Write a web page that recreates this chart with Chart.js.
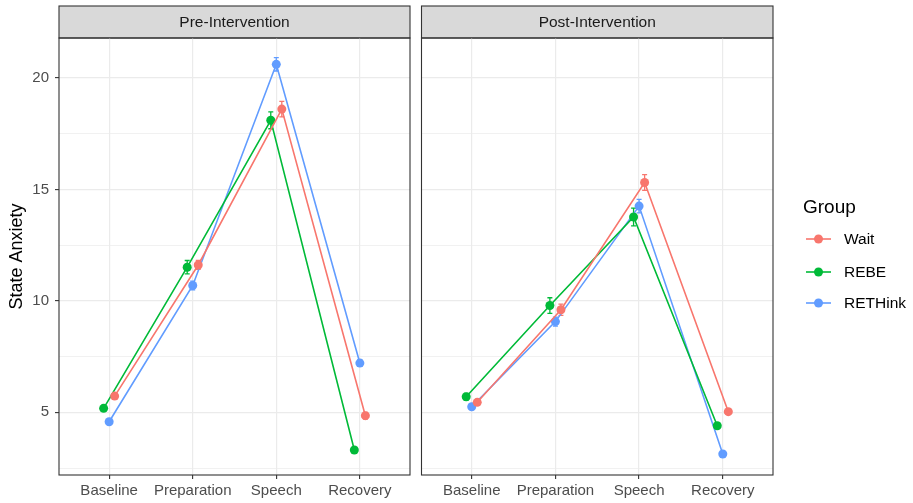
<!DOCTYPE html>
<html>
<head>
<meta charset="utf-8">
<script src="https://cdn.jsdelivr.net/npm/chart.js@4"></script>
<style>
  body { margin: 0; background: #fff; }
  #wrap { position: relative; width: 913px; height: 503px; }
  canvas { position: absolute; top: 0; }
</style>
</head>
<body>
<div id="wrap">
  <canvas id="pre" width="411" height="503" style="left:0"></canvas>
  <canvas id="post" width="502" height="503" style="left:411px"></canvas>
</div>
<script>
// phases on the x axis, one panel per period
const phases = ['Baseline', 'Preparation', 'Speech', 'Recovery'];
const groups = ['Wait', 'REBE', 'RETHink'];
const groupColors = ['#F8766D', '#00BA38', '#619CFF'];
const dodge = [0.066, -0.066, 0];
const yTicks = [2.5, 5, 7.5, 10, 12.5, 15, 17.5, 20];

// means
const preWait     = [5.73, 11.61, 18.60, 4.85];
const preREBE     = [5.18, 11.51, 18.10, 3.31];
const preRETHink  = [4.58, 10.69, 20.61, 7.21];
const postWait    = [5.45, 9.60, 15.31, 5.03];
const postREBE    = [5.70, 9.79, 13.76, 4.40];
const postRETHink = [5.25, 9.07, 14.25, 3.13];

// error bar half-lengths
const preWaitSE     = [0.12, 0.20, 0.35, 0.15];
const preREBESE     = [0.12, 0.30, 0.38, 0.10];
const preRETHinkSE  = [0.10, 0.20, 0.30, 0.15];
const postWaitSE    = [0.12, 0.25, 0.35, 0.12];
const postREBESE    = [0.15, 0.35, 0.40, 0.12];
const postRETHinkSE = [0.10, 0.20, 0.30, 0.10];

const FONT = '"Liberation Sans", Arial, sans-serif';
Chart.defaults.font.family = FONT;
Chart.defaults.color = '#4D4D4D';

function makeDatasets(series, errors) {
  return series.map((vals, g) => ({
    label: groups[g],
    data: vals.map((v, i) => ({ x: i + 1 + dodge[g], y: v })),
    errors: errors[g],
    showLine: true,
    borderColor: groupColors[g],
    backgroundColor: groupColors[g],
    borderWidth: 1.6,
    pointRadius: 4.5,
    pointBorderWidth: 0,
    pointHoverRadius: 4.5,
  }));
}

const panelDecor = {
  id: 'panelDecor',
  beforeDraw(chart, args, opts) {
    const a = chart.chartArea, ctx = chart.ctx;
    ctx.save();
    ctx.fillStyle = '#D9D9D9';
    ctx.fillRect(a.left, 6, a.right - a.left, a.top - 6);
    ctx.strokeStyle = '#333333';
    ctx.lineWidth = 1.1;
    ctx.strokeRect(a.left, 6, a.right - a.left, a.top - 6);
    ctx.fillStyle = '#1A1A1A';
    ctx.font = '15.5px ' + FONT;
    ctx.textAlign = 'center';
    ctx.textBaseline = 'middle';
    ctx.fillText(opts.label, (a.left + a.right) / 2, (6 + a.top) / 2 + 0.5);
    ctx.restore();
  },
  beforeDatasetsDraw(chart) {
    const ctx = chart.ctx, y = chart.scales.y;
    ctx.save();
    ctx.lineWidth = 1.3;
    chart.data.datasets.forEach((ds, d) => {
      const meta = chart.getDatasetMeta(d);
      ctx.strokeStyle = ds.borderColor;
      meta.data.forEach((pt, i) => {
        const v = ds.data[i].y, e = ds.errors[i];
        const y0 = y.getPixelForValue(v - e), y1 = y.getPixelForValue(v + e);
        ctx.beginPath();
        ctx.moveTo(pt.x, y0); ctx.lineTo(pt.x, y1);
        ctx.moveTo(pt.x - 2.5, y0); ctx.lineTo(pt.x + 2.5, y0);
        ctx.moveTo(pt.x - 2.5, y1); ctx.lineTo(pt.x + 2.5, y1);
        ctx.stroke();
      });
    });
    ctx.restore();
  },
  afterDraw(chart, args, opts) {
    const a = chart.chartArea, ctx = chart.ctx;
    ctx.save();
    ctx.strokeStyle = '#333333';
    ctx.lineWidth = 1.1;
    ctx.strokeRect(a.left, a.top, a.right - a.left, a.bottom - a.top);
    if (opts.legend) {
      const x0 = a.right + 30;
      ctx.fillStyle = '#000';
      ctx.font = '19px ' + FONT;
      ctx.textBaseline = 'alphabetic';
      ctx.fillText('Group', x0, 213);
      const rows = [239, 272, 303];
      ctx.font = '15.5px ' + FONT;
      ctx.textBaseline = 'middle';
      groups.forEach((g, i) => {
        ctx.strokeStyle = groupColors[i];
        ctx.fillStyle = groupColors[i];
        ctx.lineWidth = 1.6;
        ctx.beginPath();
        ctx.moveTo(x0 + 3, rows[i]); ctx.lineTo(x0 + 28, rows[i]);
        ctx.stroke();
        ctx.beginPath();
        ctx.arc(x0 + 15.5, rows[i], 4.5, 0, Math.PI * 2);
        ctx.fill();
        ctx.fillStyle = '#000';
        ctx.fillText(g, x0 + 41, rows[i] + 1);
      });
    }
    ctx.restore();
  }
};

function panelOptions(label, isLeft) {
  return {
    responsive: false,
    animation: false,
    layout: {
      autoPadding: false,
      padding: { top: 38, right: isLeft ? 1 : 140, left: 0, bottom: 0 },
    },
    plugins: {
      legend: { display: false },
      tooltip: { enabled: false },
      panelDecor: { label: label, legend: !isLeft },
    },
    scales: {
      x: {
        type: 'linear',
        min: 0.4,
        max: 4.6,
        afterBuildTicks: s => { s.ticks = phases.map((p, i) => ({ value: i + 1 })); },
        afterFit: s => { s.height = 28; s.paddingLeft = 0; s.paddingRight = 0; },
        ticks: {
          padding: 3,
          color: '#4D4D4D',
          font: { size: 15 },
          maxRotation: 0,
          callback: v => phases[Math.round(v) - 1],
        },
        grid: { color: '#EBEBEB', lineWidth: 1.2, tickColor: '#333333', tickLength: 4, tickWidth: 1.1 },
        border: { display: false },
      },
      y: {
        min: 2.19,
        max: 21.79,
        afterBuildTicks: s => { s.ticks = yTicks.map(v => ({ value: v })); },
        afterFit: s => { s.width = isLeft ? 59 : 10.5; s.paddingTop = 0; s.paddingBottom = 0; },
        title: {
          display: isLeft,
          text: 'State Anxiety',
          color: '#000',
          font: { size: 18 },
          padding: { top: 6, bottom: 0 },
        },
        ticks: {
          display: isLeft,
          padding: 6,
          color: '#4D4D4D',
          font: { size: 15 },
          callback: v => (v % 5 === 0 ? String(v) : ''),
        },
        grid: {
          color: '#EBEBEB',
          lineWidth: c => (c.tick && c.tick.value % 5 === 0 ? 1.2 : 0.7),
          drawTicks: isLeft,
          tickLength: 4,
          tickWidth: 1.1,
          tickColor: c => (c.tick && c.tick.value % 5 === 0 ? '#333333' : 'rgba(0,0,0,0)'),
        },
        border: { display: false },
      },
    },
  };
}

new Chart(document.getElementById('pre'), {
  type: 'scatter',
  data: { datasets: makeDatasets([preWait, preREBE, preRETHink], [preWaitSE, preREBESE, preRETHinkSE]) },
  options: panelOptions('Pre-Intervention', true),
  plugins: [panelDecor],
});

new Chart(document.getElementById('post'), {
  type: 'scatter',
  data: { datasets: makeDatasets([postWait, postREBE, postRETHink], [postWaitSE, postREBESE, postRETHinkSE]) },
  options: panelOptions('Post-Intervention', false),
  plugins: [panelDecor],
});
</script>
</body>
</html>
